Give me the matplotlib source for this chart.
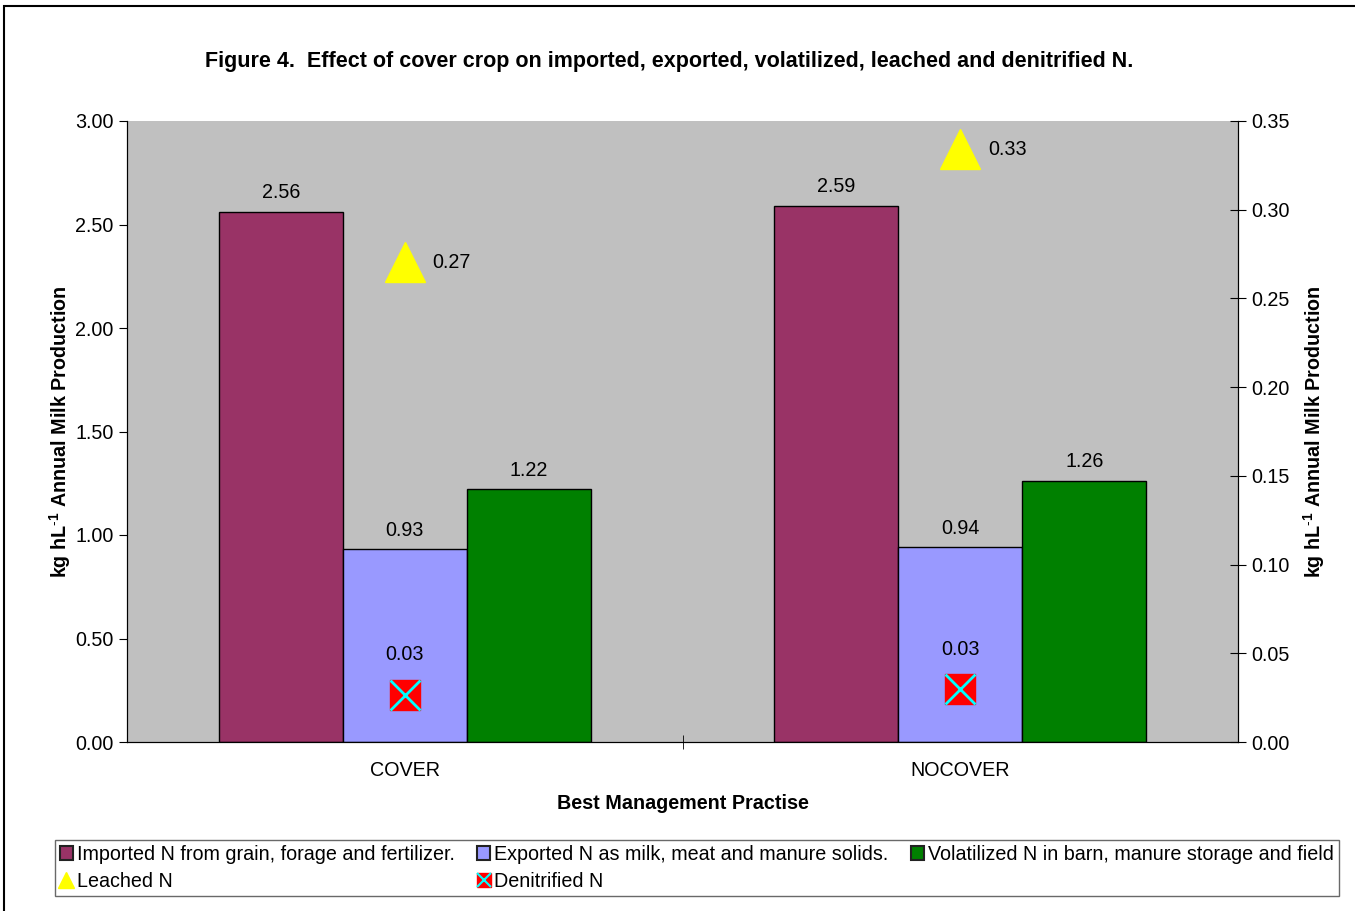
import matplotlib.pyplot as plt
import numpy as np
from matplotlib.lines import Line2D
from matplotlib.patches import Rectangle
from matplotlib.legend_handler import HandlerTuple

plt.rcParams['font.family'] = ['Liberation Sans', 'DejaVu Sans']
plt.rcParams['mathtext.fontset'] = 'custom'
plt.rcParams['mathtext.rm'] = 'Liberation Sans'
plt.rcParams['mathtext.bf'] = 'Liberation Sans:bold'

categories = ['COVER', 'NOCOVER']
imported = [2.56, 2.59]
exported = [0.93, 0.94]
volatilized = [1.22, 1.26]
leached = [0.2705, 0.334]
leached_labels = ['0.27', '0.33']
denitrified = [0.0265, 0.0296]
denitrified_labels = ['0.03', '0.03']

FS = 14.2

fig = plt.figure(figsize=(13.55, 9.11), dpi=100)
ax = fig.add_axes([127/1355, 1-742/911, 1111/1355, 621/911])
ax2 = ax.twinx()
ax.set_facecolor('#C0C0C0')

x = np.arange(len(categories))
w = 124/555.5
bar_series = [(imported, '#993366'), (exported, '#9999FF'), (volatilized, '#008000')]
for i, (vals, col) in enumerate(bar_series):
    ax.bar(x + (i-1)*w, vals, w, color=col, edgecolor='black', linewidth=1, zorder=2)
    for xi, v in zip(x + (i-1)*w, vals):
        ax.annotate(f'{v:.2f}', (xi, v), xytext=(0, 7), textcoords='offset points',
                    ha='center', va='bottom', fontsize=FS)

ax.set_xlim(-0.5, 1.5)
ax.set_ylim(0, 3.0)
ax.set_yticks(np.arange(0, 3.01, 0.5))
ax.set_yticklabels([f'{t:.2f}' for t in np.arange(0, 3.01, 0.5)], fontsize=FS)
ax.set_xticks(x)
ax.set_xticklabels(categories, fontsize=FS)
ax.tick_params(axis='x', which='major', length=0, pad=14)
ax.set_xticks([0.5], minor=True)
ax.tick_params(axis='x', which='minor', length=10, direction='inout')
ax.tick_params(axis='y', length=6, direction='out')
ylab = 'kg hL$^{\\mathbf{\\text{-}1}}$ Annual Milk Production'
ax.set_xlabel('Best Management Practise', fontsize=FS, fontweight='bold', labelpad=10)
ax.set_ylabel(ylab, fontsize=FS, fontweight='bold', labelpad=2)
ax.spines['top'].set_visible(False)
ax2.spines['top'].set_visible(False)

ax2.set_ylim(0, 0.35)
ax2.set_yticks(np.arange(0, 0.351, 0.05))
ax2.set_yticklabels([f'{t:.2f}' for t in np.arange(0, 0.351, 0.05)], fontsize=FS)
ax2.tick_params(axis='y', length=12, direction='inout')
ax2.set_ylabel(ylab, fontsize=FS, fontweight='bold', rotation=90, labelpad=8)

ax2.plot(x, leached, linestyle='none', marker='^', markersize=29, color='#FFFF00',
         markeredgecolor='#FFFF00', zorder=3)
for xi, v, t in zip(x, leached, leached_labels):
    ax2.annotate(t, (xi, v), xytext=(20, 0), textcoords='offset points',
                 ha='left', va='center', fontsize=FS)
ax2.plot(x, denitrified, linestyle='none', marker='s', markersize=22, color='#FF0000',
         markeredgecolor='#FF0000', zorder=3)
ax2.plot(x, denitrified, linestyle='none', marker='x', markersize=21, color='#00FFFF',
         markeredgewidth=2, zorder=4)
for xi, v, t in zip(x, denitrified, denitrified_labels):
    ax2.annotate(t, (xi, v), xytext=(0, 22), textcoords='offset points',
                 ha='center', va='bottom', fontsize=FS)

fig.text(669/1355, 1-61/911, 'Figure 4.  Effect of cover crop on imported, exported, volatilized, leached and denitrified N.',
         ha='center', va='center', fontsize=15.5, fontweight='bold')

# outer frame
fig.patches.append(Rectangle((4/1355, -0.05), 1.1, 1-6/911+0.05, transform=fig.transFigure,
                             fill=False, edgecolor='black', linewidth=1.5))

h_imp = Rectangle((0, 0), 1, 1, facecolor='#993366', edgecolor='#222222', linewidth=1.5)
h_exp = Rectangle((0, 0), 1, 1, facecolor='#9999FF', edgecolor='#222222', linewidth=1.5)
h_vol = Rectangle((0, 0), 1, 1, facecolor='#008000', edgecolor='#222222', linewidth=1.5)
h_lea = Line2D([], [], linestyle='none', marker='^', markersize=11, color='#FFFF00')
h_den = (Line2D([], [], linestyle='none', marker='s', markersize=10, color='#FF0000'),
         Line2D([], [], linestyle='none', marker='x', markersize=10, color='#00FFFF', markeredgewidth=1.5))
handles = [h_imp, h_lea, h_exp, h_den, h_vol]
labels = ['Imported N from grain, forage and fertilizer.', 'Leached N',
          'Exported N as milk, meat and manure solids.', 'Denitrified N',
          'Volatilized N in barn, manure storage and field']
leg = fig.legend(handles, labels, ncol=3, loc='upper left',
                 bbox_to_anchor=(55/1355, 1-840/911),
                 fontsize=FS, frameon=True, fancybox=False, edgecolor='#444444',
                 handlelength=0.65, handleheight=0.65, handletextpad=0.2, columnspacing=1.15,
                 labelspacing=0.4, borderpad=0.25, borderaxespad=0,
                 handler_map={tuple: HandlerTuple(ndivide=1, pad=0)})
leg.get_frame().set_linewidth(1)

fig.savefig('out.png', dpi=100)
